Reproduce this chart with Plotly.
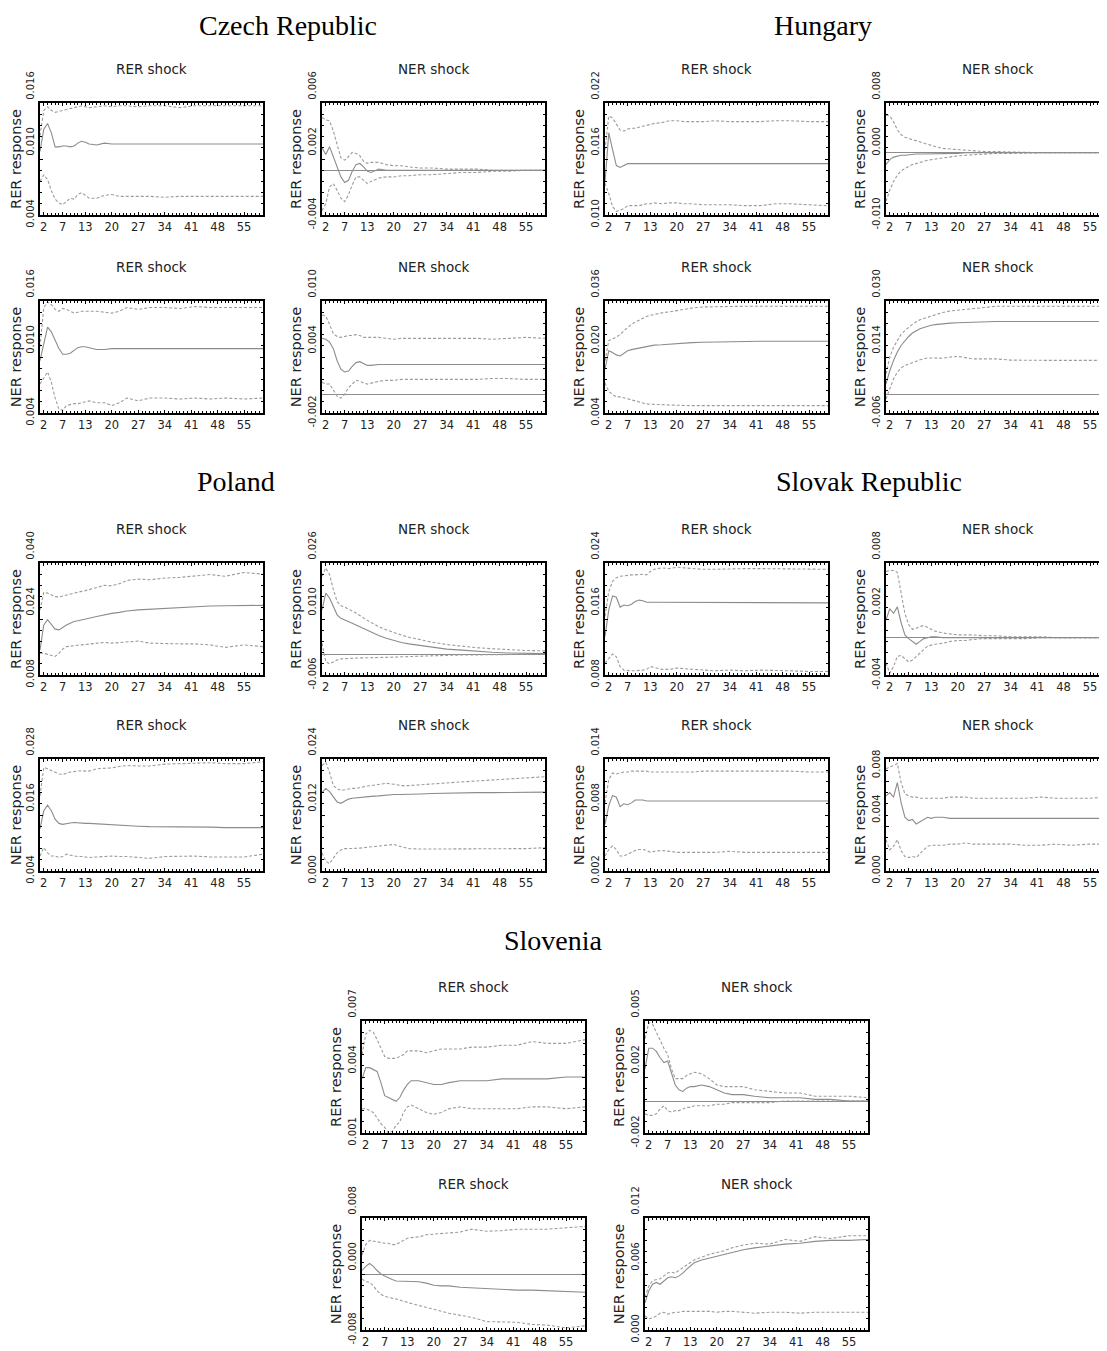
import plotly.graph_objects as go

# ---------------- data ----------------
T = [1, 2, 3, 4, 5, 6, 7, 8, 9, 10, 11, 12, 13, 14, 16, 18, 20, 22, 24, 27, 30, 34, 38, 42, 46, 50, 55, 60]
X_TICKS = [2, 7, 13, 20, 27, 34, 41, 48, 55]
X_LABELS = ["2", "7", "13", "20", "27", "34", "41", "48", "55"]

# Czech Republic
CZ_RER_RER_MID = [.0108,.0132,.0138,.0128,.0113,.0113,.0114,.0114,.0113,.0114,.0117,.0119,.0118,.0116, .0115,.0117,.0116,.0116,.0116,.0116,.0116,.0116,.0116,.0116,.0116,.0116,.0116,.0116]
CZ_RER_RER_UP = [.0125,.0152,.0156,.0152,.0150,.0151,.0152,.0153,.0154,.0155,.0156,.0157,.0156,.0155, .0156,.0157,.0156,.0157,.0157,.0156,.0157,.0157,.0155,.0157,.0157,.0157,.0157,.0157]
CZ_RER_RER_LO = [.0076,.0083,.0078,.0066,.0057,.0053,.0051,.0054,.0058,.0057,.0062,.0064,.0061,.0058, .0058,.0061,.0062,.0060,.0060,.0060,.0060,.0059,.0060,.0060,.0060,.0060,.0060,.0060]

CZ_NER_RER_MID = [.0020,.0014,.0021,.0012,.0003,-.0006,-.0011,-.0009,-.0001,.0005,.0006,.0003,-.0001,-.0002, .0001,.0000,.0000,.0000,.0000,.0000,.0000,.0000,.0000,.0000,.0000,.0000,.0000,.0000]
CZ_NER_RER_UP = [.0047,.0045,.0044,.0035,.0023,.0011,.0009,.0012,.0016,.0015,.0013,.0008,.0006,.0007, .0007,.0005,.0004,.0004,.0003,.0002,.0002,.0001,.0001,.0001,.0000,.0000,.0000,.0000]
CZ_NER_RER_LO = [-.0036,-.0030,-.0015,-.0012,-.0018,-.0025,-.0028,-.0022,-.0013,-.0006,-.0006,-.0009,-.0012,-.0010, -.0007,-.0006,-.0006,-.0005,-.0005,-.0004,-.0004,-.0003,-.0002,-.0002,-.0001,-.0001,.0000,.0000]

CZ_RER_NER_MID = [.0096,.0116,.0132,.0127,.0118,.0109,.0103,.0103,.0104,.0107,.0110,.0111,.0111,.0110, .0108,.0108,.0109,.0109,.0109,.0109,.0109,.0109,.0109,.0109,.0109,.0109,.0109,.0109]
CZ_RER_NER_UP = [.0111,.0153,.0159,.0156,.0151,.0149,.0152,.0151,.0149,.0147,.0148,.0149,.0149,.0149, .0149,.0148,.0147,.0149,.0153,.0151,.0153,.0153,.0152,.0154,.0153,.0153,.0153,.0153]
CZ_RER_NER_LO = [.0071,.0078,.0084,.0073,.0056,.0044,.0043,.0048,.0049,.0050,.0050,.0051,.0052,.0053, .0051,.0051,.0048,.0051,.0056,.0053,.0056,.0056,.0055,.0056,.0055,.0056,.0055,.0056]

CZ_NER_NER_MID = [.0060,.0059,.0056,.0049,.0036,.0027,.0024,.0025,.0030,.0034,.0035,.0033,.0031,.0031, .0032,.0032,.0032,.0032,.0032,.0032,.0032,.0032,.0032,.0032,.0032,.0032,.0032,.0032]
CZ_NER_NER_UP = [.0085,.0084,.0075,.0065,.0062,.0061,.0062,.0063,.0063,.0064,.0063,.0061,.0061,.0061, .0061,.0060,.0059,.0060,.0060,.0060,.0060,.0060,.0060,.0060,.0059,.0060,.0061,.0060]
CZ_NER_NER_LO = [.0013,.0011,.0011,.0004,-.0002,-.0004,.0000,.0007,.0011,.0015,.0014,.0012,.0011,.0012, .0014,.0015,.0015,.0016,.0016,.0016,.0016,.0016,.0016,.0016,.0017,.0017,.0016,.0016]

# Hungary
HU_RER_RER_MID = [.0135,.0188,.0170,.0153,.0151,.0153,.0155,.0155,.0155,.0155,.0155,.0155,.0155,.0155, .0155,.0155,.0155,.0155,.0155,.0155,.0155,.0155,.0155,.0155,.0155,.0155,.0155,.0155]
HU_RER_RER_UP = [.0170,.0206,.0204,.0197,.0191,.0190,.0192,.0193,.0193,.0194,.0195,.0196,.0197,.0198, .0199,.0201,.0201,.0200,.0200,.0200,.0201,.0200,.0200,.0200,.0201,.0201,.0200,.0200]
HU_RER_RER_LO = [.0134,.0123,.0109,.0104,.0105,.0107,.0110,.0110,.0110,.0110,.0111,.0112,.0112,.0113, .0112,.0113,.0113,.0112,.0112,.0111,.0111,.0111,.0110,.0110,.0112,.0112,.0111,.0110]

HU_NER_RER_MID = [-.0019,-.0011,-.0007,-.0005,-.0004,-.0004,-.0003,-.0003,-.0002,-.0002,-.0002,-.0002,-.0001,-.0001, -.0001,-.0001,-.0001,.0000,.0000,.0000,.0000,.0000,.0000,.0000,.0000,.0000,.0000,.0000]
HU_NER_RER_UP = [.0061,.0059,.0050,.0037,.0029,.0025,.0023,.0021,.0019,.0017,.0015,.0013,.0012,.0010, .0007,.0006,.0005,.0004,.0003,.0002,.0002,.0001,.0001,.0000,.0000,.0000,.0000,.0000]
HU_NER_RER_LO = [-.0078,-.0060,-.0046,-.0036,-.0029,-.0025,-.0022,-.0019,-.0017,-.0016,-.0014,-.0012,-.0011,-.0010, -.0008,-.0006,-.0005,-.0004,-.0003,-.0002,-.0001,-.0001,.0000,.0000,.0000,.0000,.0000,.0000]

HU_RER_NER_MID = [.0165,.0218,.0213,.0206,.0203,.0210,.0218,.0221,.0223,.0225,.0227,.0229,.0231,.0234, .0235,.0237,.0239,.0240,.0241,.0242,.0243,.0244,.0244,.0245,.0245,.0245,.0245,.0245]
HU_RER_NER_UP = [.0189,.0247,.0251,.0258,.0264,.0275,.0285,.0293,.0300,.0306,.0311,.0316,.0319,.0322, .0326,.0329,.0333,.0336,.0340,.0343,.0344,.0345,.0345,.0345,.0345,.0345,.0345,.0345]
HU_RER_NER_LO = [.0126,.0102,.0093,.0086,.0086,.0083,.0080,.0077,.0075,.0072,.0069,.0066,.0065,.0064, .0064,.0063,.0062,.0062,.0061,.0061,.0061,.0061,.0061,.0061,.0061,.0061,.0061,.0061]

HU_NER_NER_MID = [.0033,.0076,.0109,.0136,.0157,.0173,.0186,.0197,.0205,.0211,.0215,.0219,.0222,.0224, .0227,.0229,.0230,.0231,.0232,.0233,.0234,.0234,.0234,.0234,.0234,.0234,.0234,.0234]
HU_NER_NER_UP = [.0066,.0119,.0152,.0175,.0193,.0205,.0216,.0225,.0233,.0240,.0244,.0248,.0252,.0256, .0263,.0268,.0270,.0272,.0275,.0279,.0283,.0283,.0283,.0283,.0283,.0283,.0283,.0283]
HU_NER_NER_LO = [-.0015,.0017,.0050,.0071,.0085,.0093,.0098,.0103,.0107,.0111,.0114,.0117,.0117,.0117, .0116,.0120,.0122,.0118,.0114,.0114,.0114,.0110,.0109,.0109,.0109,.0109,.0109,.0109]

# Poland
PL_RER_RER_MID = [.0152,.0223,.0238,.0226,.0211,.0209,.0217,.0223,.0228,.0233,.0235,.0238,.0240,.0242, .0247,.0252,.0256,.0259,.0263,.0266,.0268,.0271,.0273,.0275,.0277,.0278,.0279,.0279]
PL_RER_RER_UP = [.0266,.0316,.0314,.0309,.0304,.0303,.0306,.0309,.0311,.0314,.0316,.0319,.0321,.0324, .0331,.0336,.0335,.0341,.0350,.0354,.0352,.0357,.0359,.0364,.0367,.0362,.0373,.0368]
PL_RER_RER_LO = [.0142,.0142,.0139,.0135,.0133,.0142,.0154,.0161,.0163,.0164,.0165,.0166,.0167,.0168, .0171,.0173,.0171,.0173,.0176,.0177,.0171,.0169,.0169,.0169,.0166,.0159,.0166,.0161]

PL_NER_RER_MID = [.0126,.0174,.0160,.0136,.0112,.0102,.0098,.0093,.0088,.0083,.0078,.0072,.0067,.0062, .0053,.0045,.0038,.0033,.0029,.0024,.0019,.0014,.0011,.0007,.0005,.0003,.0002,.0001]
PL_NER_RER_UP = [.0222,.0246,.0227,.0184,.0150,.0138,.0134,.0129,.0123,.0117,.0110,.0102,.0096,.0090, .0078,.0069,.0061,.0054,.0048,.0040,.0034,.0027,.0022,.0018,.0015,.0012,.0010,.0009]
PL_NER_RER_LO = [.0031,-.0022,-.0028,-.0022,-.0017,-.0014,-.0013,-.0012,-.0012,-.0012,-.0011,-.0011,-.0011,-.0011, -.0010,-.0010,-.0009,-.0008,-.0007,-.0006,-.0005,-.0004,-.0003,-.0003,-.0002,-.0001,-.0001,.0000]

PL_RER_NER_MID = [.0130,.0169,.0181,.0169,.0151,.0142,.0140,.0142,.0143,.0144,.0143,.0142,.0142,.0142, .0141,.0140,.0138,.0138,.0137,.0136,.0135,.0135,.0134,.0134,.0134,.0133,.0133,.0133]
PL_RER_NER_UP = [.0201,.0262,.0259,.0255,.0251,.0248,.0247,.0250,.0252,.0253,.0254,.0255,.0254,.0254, .0259,.0260,.0261,.0264,.0266,.0265,.0265,.0269,.0270,.0271,.0272,.0270,.0270,.0274]
PL_RER_NER_LO = [.0072,.0090,.0079,.0072,.0072,.0069,.0071,.0076,.0074,.0072,.0071,.0071,.0070,.0069, .0070,.0071,.0072,.0071,.0071,.0069,.0067,.0071,.0071,.0072,.0070,.0070,.0070,.0076]

PL_NER_NER_MID = [.0168,.0177,.0170,.0158,.0148,.0145,.0150,.0154,.0156,.0157,.0158,.0158,.0159,.0160, .0161,.0163,.0164,.0164,.0165,.0165,.0166,.0167,.0167,.0168,.0168,.0168,.0169,.0169]
PL_NER_NER_UP = [.0226,.0233,.0211,.0183,.0176,.0173,.0174,.0176,.0177,.0177,.0179,.0181,.0182,.0183, .0186,.0188,.0186,.0183,.0183,.0185,.0187,.0189,.0191,.0193,.0195,.0198,.0200,.0202]
PL_NER_NER_LO = [.0039,.0021,.0016,.0029,.0039,.0045,.0048,.0048,.0048,.0049,.0049,.0050,.0051,.0052, .0054,.0056,.0057,.0052,.0048,.0047,.0047,.0047,.0047,.0048,.0047,.0048,.0048,.0050]

# Slovak Republic
SK_RER_RER_MID = [.0135,.0173,.0193,.0191,.0177,.0180,.0179,.0181,.0185,.0187,.0186,.0184,.0184,.0184, .0183,.0183,.0183,.0183,.0183,.0183,.0183,.0183,.0183,.0183,.0183,.0183,.0183,.0183]
SK_RER_RER_UP = [.0164,.0199,.0214,.0219,.0221,.0222,.0222,.0223,.0223,.0224,.0224,.0223,.0228,.0231, .0233,.0232,.0234,.0233,.0232,.0231,.0231,.0232,.0232,.0232,.0232,.0231,.0231,.0231]
SK_RER_RER_LO = [.0097,.0104,.0110,.0106,.0092,.0087,.0086,.0086,.0086,.0086,.0087,.0088,.0092,.0091, .0088,.0088,.0090,.0089,.0088,.0087,.0086,.0087,.0086,.0087,.0087,.0086,.0085,.0085]

SK_NER_RER_MID = [.0019,.0031,.0026,.0033,.0016,.0003,-.0001,-.0004,-.0007,-.0004,-.0001,.0000,.0001,.0001, .0000,.0000,.0000,.0000,.0000,.0000,.0000,.0000,.0000,.0000,.0000,.0000,.0000,.0000]
SK_NER_RER_UP = [.0071,.0072,.0072,.0070,.0048,.0026,.0014,.0009,.0010,.0012,.0013,.0011,.0009,.0007, .0005,.0004,.0003,.0003,.0003,.0002,.0002,.0001,.0001,.0001,.0000,.0000,.0000,.0000]
SK_NER_RER_LO = [-.0027,-.0038,-.0031,-.0020,-.0019,-.0022,-.0026,-.0024,-.0020,-.0016,-.0012,-.0009,-.0008,-.0007, -.0006,-.0004,-.0003,-.0003,-.0002,-.0001,-.0001,-.0001,-.0001,.0000,.0000,.0000,.0000,.0000]

SK_RER_NER_MID = [.0070,.0090,.0101,.0099,.0089,.0092,.0091,.0093,.0096,.0096,.0096,.0095,.0095,.0095, .0095,.0095,.0095,.0095,.0095,.0095,.0095,.0095,.0095,.0095,.0095,.0095,.0095,.0095]
SK_RER_NER_UP = [.0093,.0118,.0125,.0124,.0125,.0126,.0126,.0127,.0127,.0127,.0127,.0127,.0126,.0126, .0126,.0126,.0126,.0126,.0126,.0127,.0127,.0127,.0127,.0127,.0127,.0127,.0126,.0126]
SK_RER_NER_LO = [.0036,.0043,.0047,.0043,.0036,.0036,.0038,.0040,.0042,.0043,.0043,.0042,.0040,.0041, .0042,.0041,.0040,.0040,.0040,.0040,.0040,.0041,.0040,.0040,.0040,.0040,.0040,.0040]

SK_NER_NER_MID = [.0067,.0070,.0066,.0079,.0061,.0048,.0045,.0046,.0042,.0044,.0046,.0048,.0047,.0048, .0048,.0047,.0047,.0047,.0047,.0047,.0047,.0047,.0047,.0047,.0047,.0047,.0047,.0047]
SK_NER_NER_UP = [.0091,.0093,.0094,.0096,.0079,.0069,.0067,.0066,.0066,.0065,.0065,.0065,.0065,.0065, .0065,.0066,.0066,.0066,.0065,.0065,.0065,.0065,.0065,.0066,.0065,.0065,.0065,.0066]
SK_NER_NER_LO = [.0028,.0019,.0022,.0028,.0018,.0013,.0012,.0013,.0012,.0016,.0019,.0022,.0023,.0023, .0023,.0024,.0024,.0025,.0024,.0024,.0024,.0024,.0023,.0023,.0024,.0023,.0024,.0024]

# Slovenia
SI_RER_RER_MID = [.0039,.0045,.0045,.0044,.0043,.0037,.0030,.0029,.0028,.0027,.0029,.0033,.0036,.0038, .0038,.0037,.0036,.0036,.0037,.0038,.0038,.0038,.0039,.0039,.0039,.0039,.0040,.0040]
SI_RER_RER_UP = [.0052,.0063,.0065,.0064,.0060,.0055,.0051,.0050,.0050,.0050,.0051,.0052,.0054,.0054, .0054,.0053,.0054,.0055,.0055,.0055,.0056,.0056,.0057,.0057,.0059,.0058,.0058,.0060]
SI_RER_RER_LO = [.0023,.0023,.0022,.0021,.0018,.0015,.0013,.0010,.0011,.0014,.0016,.0021,.0024,.0025, .0023,.0021,.0020,.0021,.0023,.0024,.0023,.0023,.0023,.0023,.0024,.0024,.0023,.0024]

SI_NER_RER_MID = [.0020,.0033,.0033,.0031,.0027,.0024,.0025,.0018,.0010,.0007,.0006,.0008,.0009,.0009, .0010,.0009,.0007,.0005,.0004,.0004,.0003,.0002,.0002,.0002,.0001,.0001,.0000,.0000]
SI_NER_RER_UP = [.0039,.0049,.0048,.0043,.0037,.0033,.0029,.0020,.0014,.0014,.0014,.0016,.0017,.0018, .0017,.0014,.0010,.0009,.0009,.0009,.0007,.0006,.0005,.0005,.0003,.0003,.0003,.0002]
SI_NER_RER_LO = [-.0008,-.0009,-.0009,-.0008,-.0005,-.0003,-.0006,-.0007,-.0006,-.0006,-.0005,-.0004,-.0004,-.0003, -.0003,-.0003,-.0002,-.0002,-.0001,-.0001,-.0001,-.0001,.0000,.0000,.0000,.0000,.0000,.0000]

SI_RER_NER_MID = [.0005,.0011,.0015,.0011,.0005,.0000,-.0003,-.0006,-.0008,-.0010,-.0010,-.0010,-.0010,-.0010, -.0011,-.0013,-.0016,-.0017,-.0017,-.0019,-.0020,-.0021,-.0022,-.0023,-.0023,-.0024,-.0025,-.0026]
SI_RER_NER_UP = [.0027,.0042,.0048,.0047,.0045,.0044,.0044,.0044,.0042,.0042,.0045,.0048,.0051,.0052, .0053,.0056,.0057,.0057,.0058,.0060,.0064,.0061,.0062,.0064,.0064,.0064,.0066,.0068]
SI_RER_NER_LO = [-.0007,-.0011,-.0012,-.0017,-.0024,-.0029,-.0032,-.0033,-.0034,-.0035,-.0037,-.0039,-.0040,-.0042, -.0045,-.0048,-.0051,-.0053,-.0056,-.0059,-.0062,-.0068,-.0068,-.0069,-.0072,-.0073,-.0077,-.0074]

SI_NER_NER_MID = [.0029,.0042,.0049,.0051,.0049,.0053,.0056,.0057,.0056,.0058,.0061,.0065,.0069,.0072, .0075,.0077,.0079,.0081,.0083,.0086,.0088,.0090,.0092,.0093,.0095,.0096,.0096,.0097]
SI_NER_NER_UP = [.0035,.0047,.0053,.0054,.0055,.0058,.0061,.0062,.0061,.0064,.0067,.0070,.0073,.0075, .0078,.0081,.0083,.0085,.0088,.0091,.0093,.0092,.0097,.0095,.0100,.0098,.0101,.0101]
SI_NER_NER_LO = [.0015,.0012,.0013,.0015,.0018,.0019,.0017,.0018,.0019,.0019,.0020,.0020,.0020,.0020, .0020,.0020,.0019,.0020,.0020,.0019,.0018,.0019,.0019,.0018,.0019,.0019,.0019,.0019]

# y-axis ranges, tick values and tick labels (as printed in the picture)
YR = {
    "CZ_RER_RER": [0.004, 0.016], "CZ_NER_RER": [-0.004, 0.006], "HU_RER_RER": [0.010, 0.022], "HU_NER_RER": [-0.010, 0.008],
    "CZ_RER_NER": [0.004, 0.016], "CZ_NER_NER": [-0.002, 0.010], "HU_RER_NER": [0.004, 0.036], "HU_NER_NER": [-0.006, 0.030],
    "PL_RER_RER": [0.008, 0.040], "PL_NER_RER": [-0.006, 0.026], "SK_RER_RER": [0.008, 0.024], "SK_NER_RER": [-0.004, 0.008],
    "PL_RER_NER": [0.004, 0.028], "PL_NER_NER": [0.000, 0.024], "SK_RER_NER": [0.002, 0.014], "SK_NER_NER": [0.000, 0.010],
    "SI_RER_RER": [0.001, 0.007], "SI_NER_RER": [-0.002, 0.005], "SI_RER_NER": [-0.008, 0.008], "SI_NER_NER": [0.000, 0.012],
}
YTV = {
    "CZ_RER_RER": [0.004, 0.010, 0.016], "CZ_NER_RER": [-0.004, 0.001, 0.006], "HU_RER_RER": [0.010, 0.016, 0.022], "HU_NER_RER": [-0.010, -0.001, 0.008],
    "CZ_RER_NER": [0.004, 0.010, 0.016], "CZ_NER_NER": [-0.002, 0.004, 0.010], "HU_RER_NER": [0.004, 0.020, 0.036], "HU_NER_NER": [-0.006, 0.012, 0.030],
    "PL_RER_RER": [0.008, 0.024, 0.040], "PL_NER_RER": [-0.006, 0.010, 0.026], "SK_RER_RER": [0.008, 0.016, 0.024], "SK_NER_RER": [-0.004, 0.002, 0.008],
    "PL_RER_NER": [0.004, 0.016, 0.028], "PL_NER_NER": [0.000, 0.012, 0.024], "SK_RER_NER": [0.002, 0.008, 0.014], "SK_NER_NER": [0.000, 0.004, 0.008],
    "SI_RER_RER": [0.001, 0.004, 0.007], "SI_NER_RER": [-0.002, 0.0015, 0.005], "SI_RER_NER": [-0.008, 0.000, 0.008], "SI_NER_NER": [0.000, 0.006, 0.012],
}
YTT = {
    "CZ_RER_RER": ["0.004", "0.010", "0.016"], "CZ_NER_RER": ["-0.004", "0.002", "0.006"], "HU_RER_RER": ["0.010", "0.016", "0.022"], "HU_NER_RER": ["-0.010", "0.000", "0.008"],
    "CZ_RER_NER": ["0.004", "0.010", "0.016"], "CZ_NER_NER": ["-0.002", "0.004", "0.010"], "HU_RER_NER": ["0.004", "0.020", "0.036"], "HU_NER_NER": ["-0.006", "0.014", "0.030"],
    "PL_RER_RER": ["0.008", "0.024", "0.040"], "PL_NER_RER": ["-0.006", "0.010", "0.026"], "SK_RER_RER": ["0.008", "0.016", "0.024"], "SK_NER_RER": ["-0.004", "0.002", "0.008"],
    "PL_RER_NER": ["0.004", "0.016", "0.028"], "PL_NER_NER": ["0.000", "0.012", "0.024"], "SK_RER_NER": ["0.002", "0.008", "0.014"], "SK_NER_NER": ["0.000", "0.004", "0.008"],
    "SI_RER_RER": ["0.001", "0.004", "0.007"], "SI_NER_RER": ["-0.002", "0.002", "0.005"], "SI_RER_NER": ["-0.008", "0.000", "0.008"], "SI_NER_NER": ["0.000", "0.006", "0.012"],
}

COUNTRIES = ["Czech Republic", "Hungary", "Poland", "Slovak Republic", "Slovenia"]
SHOCKS = ["RER shock", "NER shock"]
RESPONSES = ["RER response", "NER response"]

SERIES = {
    "CZ_RER_RER": (CZ_RER_RER_MID, CZ_RER_RER_UP, CZ_RER_RER_LO), "CZ_NER_RER": (CZ_NER_RER_MID, CZ_NER_RER_UP, CZ_NER_RER_LO),
    "CZ_RER_NER": (CZ_RER_NER_MID, CZ_RER_NER_UP, CZ_RER_NER_LO), "CZ_NER_NER": (CZ_NER_NER_MID, CZ_NER_NER_UP, CZ_NER_NER_LO),
    "HU_RER_RER": (HU_RER_RER_MID, HU_RER_RER_UP, HU_RER_RER_LO), "HU_NER_RER": (HU_NER_RER_MID, HU_NER_RER_UP, HU_NER_RER_LO),
    "HU_RER_NER": (HU_RER_NER_MID, HU_RER_NER_UP, HU_RER_NER_LO), "HU_NER_NER": (HU_NER_NER_MID, HU_NER_NER_UP, HU_NER_NER_LO),
    "PL_RER_RER": (PL_RER_RER_MID, PL_RER_RER_UP, PL_RER_RER_LO), "PL_NER_RER": (PL_NER_RER_MID, PL_NER_RER_UP, PL_NER_RER_LO),
    "PL_RER_NER": (PL_RER_NER_MID, PL_RER_NER_UP, PL_RER_NER_LO), "PL_NER_NER": (PL_NER_NER_MID, PL_NER_NER_UP, PL_NER_NER_LO),
    "SK_RER_RER": (SK_RER_RER_MID, SK_RER_RER_UP, SK_RER_RER_LO), "SK_NER_RER": (SK_NER_RER_MID, SK_NER_RER_UP, SK_NER_RER_LO),
    "SK_RER_NER": (SK_RER_NER_MID, SK_RER_NER_UP, SK_RER_NER_LO), "SK_NER_NER": (SK_NER_NER_MID, SK_NER_NER_UP, SK_NER_NER_LO),
    "SI_RER_RER": (SI_RER_RER_MID, SI_RER_RER_UP, SI_RER_RER_LO), "SI_NER_RER": (SI_NER_RER_MID, SI_NER_RER_UP, SI_NER_RER_LO),
    "SI_RER_NER": (SI_RER_NER_MID, SI_RER_NER_UP, SI_RER_NER_LO), "SI_NER_NER": (SI_NER_NER_MID, SI_NER_NER_UP, SI_NER_NER_LO),
}
for k, v in SERIES.items():
    for s in v:
        assert len(s) == len(T), (k, len(s))

# ---------------- layout (page-pixel boxes; the page body has an 8px margin) ----------------
PAGE_W, PAGE_H = 1107, 1351
OFF = 8
W, H = PAGE_W - OFF, PAGE_H - OFF
COLS = {"A": (40, 263), "B": (322, 545), "C": (605, 828), "D": (886, 1107), "E": (362, 585), "F": (645, 868)}
ROWS = [(103, 215), (301, 413), (563, 675), (759, 871), (1021, 1133), (1218, 1330)]

# (key, column, row, shock index, response index)
PANELS = [
    ("CZ_RER_RER", "A", 0, 0, 0), ("CZ_NER_RER", "B", 0, 1, 0), ("HU_RER_RER", "C", 0, 0, 0), ("HU_NER_RER", "D", 0, 1, 0),
    ("CZ_RER_NER", "A", 1, 0, 1), ("CZ_NER_NER", "B", 1, 1, 1), ("HU_RER_NER", "C", 1, 0, 1), ("HU_NER_NER", "D", 1, 1, 1),
    ("PL_RER_RER", "A", 2, 0, 0), ("PL_NER_RER", "B", 2, 1, 0), ("SK_RER_RER", "C", 2, 0, 0), ("SK_NER_RER", "D", 2, 1, 0),
    ("PL_RER_NER", "A", 3, 0, 1), ("PL_NER_NER", "B", 3, 1, 1), ("SK_RER_NER", "C", 3, 0, 1), ("SK_NER_NER", "D", 3, 1, 1),
    ("SI_RER_RER", "E", 4, 0, 0), ("SI_NER_RER", "F", 4, 1, 0), ("SI_RER_NER", "E", 5, 0, 1), ("SI_NER_NER", "F", 5, 1, 1),
]
COUNTRY_POS = [(288, 26), (823, 26), (236, 481), (869, 481), (553, 940)]


def px(x):
    return (x - OFF) / W


def py(y):
    return 1 - (y - OFF) / H


LINE_C = "#8c8c8c"
DASH_C = "#9c9c9c"
TXT_C = "#222222"
FONT = "DejaVu Sans"
NB = "\u00a0"
SHIFT = -16

fig = go.Figure()
layout = dict(
    width=W, height=H, margin=dict(l=0, r=0, t=0, b=0, autoexpand=False),
    paper_bgcolor="white", plot_bgcolor="white", showlegend=False,
    annotations=[],
)

for i, (key, col, row, si, ri) in enumerate(PANELS, start=1):
    x0, x1 = COLS[col]
    y0, y1 = ROWS[row]
    cut = (col == "D")
    xr = "x" if i == 1 else f"x{i}"
    yr = "y" if i == 1 else f"y{i}"
    mid, up, lo = SERIES[key]
    for ys, dash, c in ((up, "3px,2px", DASH_C), (lo, "3px,2px", DASH_C), (mid, "solid", LINE_C)):
        fig.add_trace(go.Scatter(x=T, y=ys, xaxis=xr, yaxis=yr, mode="lines",
                                 line=dict(color=c, width=1.1, dash=dash), hoverinfo="skip"))
    lo_r, hi_r = YR[key]
    tt = list(YTT[key])
    tt[0] = tt[0] + NB * 10  # bottom label sits centred on its tick
    layout[f"xaxis{i}"] = dict(
        domain=[px(x0), min(px(x1), 1.0)], range=[1, 59.5 if cut else 60], anchor=yr, automargin=False,
        tickmode="array", tickvals=X_TICKS, ticktext=X_LABELS,
        ticks="inside", ticklen=3, tickwidth=1, tickcolor="black",
        showline=True, linecolor="black", linewidth=2, mirror="allticks",
        showgrid=False, zeroline=False,
        tickfont=dict(family=FONT, size=11.5, color=TXT_C),
        minor=dict(tickmode="linear", tick0=1, dtick=1, ticks="inside", ticklen=2, tickcolor="black", showgrid=False),
    )
    layout[f"yaxis{i}"] = dict(
        domain=[py(y1), py(y0)], range=[lo_r, hi_r], anchor=xr, automargin=False,
        tickmode="array", tickvals=YTV[key], ticktext=tt, tickangle=-90, ticklabelshift=SHIFT,
        ticks="inside", ticklen=3, tickwidth=1, tickcolor="black",
        showline=True, linecolor="black", linewidth=2, mirror=False if cut else "allticks",
        showgrid=False, zeroline=True, zerolinecolor=LINE_C, zerolinewidth=1,
        tickfont=dict(family=FONT, size=10, color=TXT_C),
        minor=dict(tickmode="linear", tick0=lo_r, dtick=(hi_r - lo_r) / 10, ticks="inside", ticklen=2,
                   tickcolor="black", showgrid=False),
        title=dict(text=NB * 4 + RESPONSES[ri], font=dict(family=FONT, size=14.5, color=TXT_C), standoff=2),
    )
    layout["annotations"].append(dict(
        text=SHOCKS[si], x=px((x0 + x0 + 223) / 2), y=py(y0 - 34),
        xref="paper", yref="paper", showarrow=False, xanchor="center", yanchor="middle",
        font=dict(family=FONT, size=13.5, color=TXT_C)))

for name, (cx, cy) in zip(COUNTRIES, COUNTRY_POS):
    layout["annotations"].append(dict(
        text=name, x=px(cx), y=py(cy), xref="paper", yref="paper", showarrow=False,
        xanchor="center", yanchor="middle", font=dict(family="Liberation Serif", size=28, color="black")))

fig.update_layout(layout)
fig.write_html("out.html")
